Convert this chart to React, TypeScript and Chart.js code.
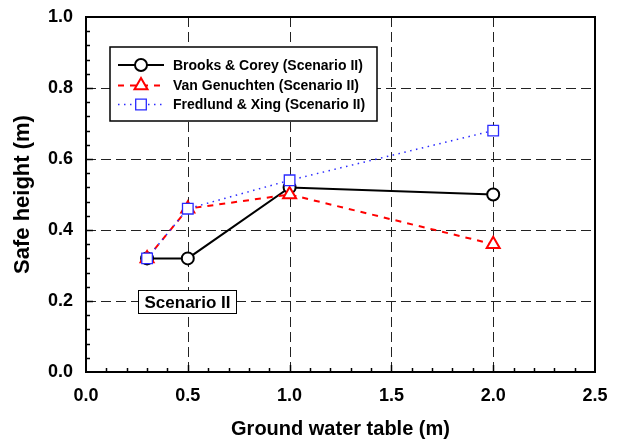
import React, { useEffect, useRef } from "react";
import { Chart, registerables } from "chart.js";

Chart.register(...registerables);

const groundWaterTable = [0.3, 0.5, 1.0, 2.0];
const brooksCorey = [0.32, 0.32, 0.52, 0.50];
const vanGenuchten = [0.32, 0.46, 0.50, 0.36];
const fredlundXing = [0.32, 0.46, 0.54, 0.68];
const seriesLabels = [
  "Brooks & Corey (Scenario II)",
  "Van Genuchten (Scenario II)",
  "Fredlund & Xing (Scenario II)",
];
const annotationText = "Scenario II";
const xTitle = "Ground water table (m)";
const yTitle = "Safe height (m)";

const FONT = "'Liberation Sans', Arial, sans-serif";

const styles = [
  { color: "#000000", dash: [] as number[], width: 2, point: "circle", radius: 6 },
  { color: "#ff0000", dash: [6, 6], width: 2, point: "triangle", radius: 7.5 },
  { color: "#2a2aff", dash: [1.5, 4.5], width: 1.5, point: "rect", radius: 7.5 },
];

function drawMarker(ctx: CanvasRenderingContext2D, s: any, x: number, y: number) {
  ctx.save();
  ctx.strokeStyle = s.color;
  ctx.fillStyle = "#fff";
  ctx.lineWidth = s.width === 1.5 ? 1.3 : 2;
  ctx.beginPath();
  if (s.point === "circle") {
    ctx.arc(x, y, s.radius, 0, Math.PI * 2);
  } else if (s.point === "triangle") {
    const r = s.radius;
    ctx.moveTo(x, y - r);
    ctx.lineTo(x + r * 0.866, y + r * 0.5);
    ctx.lineTo(x - r * 0.866, y + r * 0.5);
    ctx.closePath();
  } else {
    const h = s.radius * Math.SQRT1_2;
    ctx.rect(x - h, y - h, 2 * h, 2 * h);
  }
  ctx.fill();
  ctx.stroke();
  ctx.restore();
}

const framePlugin = {
  id: "framePlugin",
  beforeDatasetsDraw(chart: any) {
    const { ctx, chartArea } = chart;
    const xs = chart.scales.x;
    const ys = chart.scales.y;
    const { left, right, top, bottom } = chartArea;
    ctx.save();
    ctx.strokeStyle = "#222";
    ctx.lineWidth = 1;
    ctx.setLineDash([10, 5]);
    for (const v of [0.5, 1.0, 1.5, 2.0]) {
      const px = Math.round(xs.getPixelForValue(v)) + 0.5;
      ctx.beginPath();
      ctx.moveTo(px, top);
      ctx.lineTo(px, bottom);
      ctx.stroke();
    }
    for (const v of [0.2, 0.4, 0.6, 0.8]) {
      const py = Math.round(ys.getPixelForValue(v)) + 0.5;
      ctx.beginPath();
      ctx.moveTo(left, py);
      ctx.lineTo(right, py);
      ctx.stroke();
    }
    ctx.setLineDash([]);
    ctx.strokeStyle = "#000";
    ctx.lineWidth = 1.5;
    for (let i = 1; i < 25; i++) {
      const px = Math.round(xs.getPixelForValue(i * 0.1)) + 0.5;
      const len = i % 5 === 0 ? 7 : 4;
      ctx.beginPath();
      ctx.moveTo(px, bottom);
      ctx.lineTo(px, bottom - len);
      ctx.stroke();
    }
    for (let i = 1; i < 25; i++) {
      const py = Math.round(ys.getPixelForValue(i * 0.04)) + 0.5;
      const len = i % 5 === 0 ? 7 : 4;
      ctx.beginPath();
      ctx.moveTo(left, py);
      ctx.lineTo(left + len, py);
      ctx.stroke();
    }
    ctx.lineWidth = 2;
    ctx.strokeRect(left, top, right - left, bottom - top);
    ctx.restore();
  },
  afterDatasetsDraw(chart: any) {
    const { ctx, chartArea } = chart;
    const { left, top } = chartArea;
    ctx.save();
    const lx = left + 24;
    const ly = top + 30;
    const lw = 267;
    const lh = 74;
    ctx.fillStyle = "#fff";
    ctx.fillRect(lx, ly, lw, lh);
    ctx.strokeStyle = "#000";
    ctx.lineWidth = 1.5;
    ctx.strokeRect(lx, ly, lw, lh);
    const rows = [ly + 18, ly + 38.5, ly + 57.5];
    ctx.font = `bold 14px ${FONT}`;
    ctx.textBaseline = "middle";
    ctx.textAlign = "left";
    styles.forEach((s, i) => {
      const y = rows[i];
      ctx.strokeStyle = s.color;
      ctx.lineWidth = s.width;
      ctx.setLineDash(s.dash);
      ctx.beginPath();
      ctx.moveTo(lx + 8, y);
      ctx.lineTo(lx + 54, y);
      ctx.stroke();
      ctx.setLineDash([]);
      drawMarker(ctx, s, lx + 31, y);
      ctx.fillStyle = "#000";
      ctx.fillText(seriesLabels[i], lx + 63, y + 1);
    });
    const ax = left + 52;
    const ay = top + 273;
    ctx.fillStyle = "#fff";
    ctx.fillRect(ax, ay, 98, 23);
    ctx.strokeStyle = "#000";
    ctx.lineWidth = 1;
    ctx.strokeRect(ax + 0.5, ay + 0.5, 98, 23);
    ctx.fillStyle = "#000";
    ctx.font = `bold 17px ${FONT}`;
    ctx.textAlign = "center";
    ctx.fillText(annotationText, ax + 49.5, ay + 13);
    ctx.restore();
  },
};

export default function App() {
  const ref = useRef<HTMLCanvasElement>(null);
  useEffect(() => {
    if (!ref.current) return;
    const series = [brooksCorey, vanGenuchten, fredlundXing];
    const chart = new Chart(ref.current, {
      type: "scatter",
      data: {
        datasets: series.map((vals, i) => ({
          label: seriesLabels[i],
          data: groundWaterTable.map((x, j) => ({ x, y: vals[j] })),
          showLine: true,
          borderColor: styles[i].color,
          borderWidth: styles[i].width,
          borderDash: styles[i].dash,
          backgroundColor: "#ffffff",
          pointStyle: styles[i].point as any,
          pointRadius: styles[i].radius,
          pointBorderWidth: styles[i].width === 1.5 ? 1.3 : 2,
          pointBackgroundColor: "#ffffff",
          pointBorderColor: styles[i].color,
          order: 3 - i,
        })),
      },
      options: {
        animation: false,
        responsive: false,
        layout: { padding: { left: 0, top: 17, right: 23, bottom: 0 } },
        plugins: { legend: { display: false }, tooltip: { enabled: false } },
        scales: {
          x: {
            type: "linear",
            min: 0,
            max: 2.5,
            grid: { display: false, drawTicks: false },
            border: { display: false },
            ticks: {
              stepSize: 0.5,
              padding: 13.5,
              color: "#000",
              font: { family: FONT, size: 18, weight: "bold" },
              callback: (v: any) => Number(v).toFixed(1),
              maxRotation: 0,
            },
            title: {
              display: true,
              text: xTitle,
              color: "#000",
              font: { family: FONT, size: 20, weight: "bold" },
              padding: { top: 0, bottom: 0 },
            },
            afterFit: (s: any) => {
              s.height = 69;
              s.paddingLeft = 0;
              s.paddingRight = 0;
            },
          },
          y: {
            type: "linear",
            min: 0,
            max: 1,
            grid: { display: false, drawTicks: false },
            border: { display: false },
            ticks: {
              stepSize: 0.2,
              padding: 13,
              color: "#000",
              font: { family: FONT, size: 18, weight: "bold" },
              callback: (v: any) => Number(v).toFixed(1),
            },
            title: {
              display: true,
              text: yTitle,
              color: "#000",
              font: { family: FONT, size: 22, weight: "bold" },
              padding: { top: 10, bottom: 0 },
            },
            afterFit: (s: any) => {
              s.width = 86;
              s.paddingTop = 0;
              s.paddingBottom = 0;
            },
          },
        },
      },
      plugins: [framePlugin],
    } as any);
    return () => chart.destroy();
  }, []);
  return (
    <div style={{ position: "fixed", left: 0, top: 0, width: 618, height: 441, background: "#fff" }}>
      <canvas ref={ref} width={618} height={441} style={{ width: 618, height: 441 }} />
    </div>
  );
}
